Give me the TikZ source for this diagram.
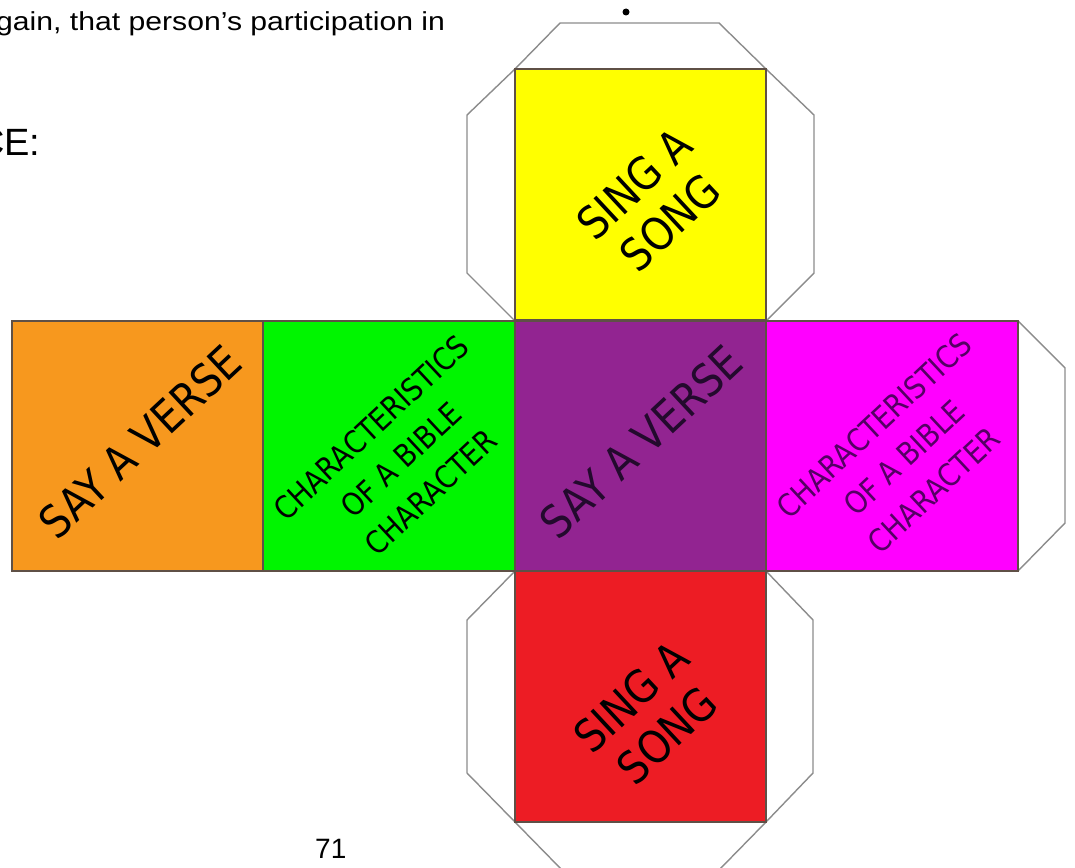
\documentclass[tikz,border=0pt]{standalone}
\usepackage{fontspec}
\setmainfont{Liberation Sans}
\newfontfamily\widefont[FakeStretch=1.16]{Liberation Sans}
\newfontfamily\dicefont[FakeStretch=0.88]{DejaVu Sans}
\definecolor{dorange}{RGB}{247,152,30}
\definecolor{dgreen}{RGB}{0,245,0}
\definecolor{dyellow}{RGB}{255,255,0}
\definecolor{dpurple}{RGB}{146,36,145}
\definecolor{dmagenta}{RGB}{255,0,255}
\definecolor{dred}{RGB}{237,28,36}
\definecolor{facebd}{RGB}{95,80,70}
\definecolor{tabbd}{RGB}{140,140,140}
\definecolor{magtext}{RGB}{85,0,100}
\definecolor{purtext}{RGB}{35,10,45}
\tikzset{
  face/.style={draw=facebd, line width=1.2pt, inner sep=0pt, outer sep=0pt, anchor=north west,
               minimum width=251pt, minimum height=251pt},
  tabshape/.style={draw=tabbd, fill=white, line width=1.4pt, line join=miter},
  bigtext/.style={font=\dicefont\fontsize{45}{53}\selectfont, inner sep=0pt, align=center, rotate=43},
  smalltext/.style={font=\dicefont\fontsize{31}{44}\selectfont, inner sep=0pt, align=center, rotate=43},
  pagetext/.style={inner sep=0pt, anchor=base west}
}
\begin{document}
\begin{tikzpicture}[x=1pt,y=-1pt]
\useasboundingbox (0,0) rectangle (1075,867);
\clip (0,0) rectangle (1075,867);
\fill[white] (0,0) rectangle (1075,867);

% page text
\node[pagetext, font=\widefont\fontsize{26}{30}\selectfont] (line) at (-4,31) {gain, that person’s participation in};
\node[pagetext, font=\fontsize{38}{44}\selectfont] (ce) at (-23,155) {CE:};
\node[pagetext, font=\fontsize{28}{32}\selectfont] (pnum) at (315,858) {71};
\fill (626,12) circle (3.5);

% glue tabs
\draw[tabshape] (515,69) -- (560,23) -- (719,23) -- (766,69);
\draw[tabshape] (515,69) -- (467,115) -- (467,273) -- (515,321);
\draw[tabshape] (766,69) -- (814,115) -- (814,273) -- (766,321);
\draw[tabshape] (1018,321) -- (1065,368) -- (1065,523) -- (1018,571);
\draw[tabshape] (515,571) -- (467,620) -- (467,773) -- (515,822);
\draw[tabshape] (766,571) -- (813,620) -- (813,773) -- (766,822);
\draw[tabshape] (515,822) -- (562,870) -- (719,870) -- (766,822);

% faces
\node[face, fill=dyellow] (yellow) at (515,69) {};
\node[face, fill=dorange, minimum height=250pt] (orange) at (12,321) {};
\node[face, fill=dgreen, minimum height=250pt, minimum width=252pt] (green) at (263,321) {};
\node[face, fill=dpurple, minimum height=250pt] (purple) at (515,321) {};
\node[face, fill=dmagenta, minimum height=250pt, minimum width=252pt] (magenta) at (766,321) {};
\node[face, fill=dred] (red) at (515,571) {};

% labels
\node[bigtext] (tyellow) at (652,203) {SING A\\SONG};
\node[bigtext] (torange) at (140,442) {SAY A VERSE};
\node[smalltext] (tgreen) at (401,460) {CHARACTERISTICS\\OF A BIBLE\\CHARACTER};
\node[bigtext, text=purtext] (tpurple) at (641,442) {SAY A VERSE};
\node[smalltext, text=magtext] (tmagenta) at (904,458) {CHARACTERISTICS\\OF A BIBLE\\CHARACTER};
\node[bigtext] (tred) at (649,716) {SING A\\SONG};
\end{tikzpicture}
\end{document}
